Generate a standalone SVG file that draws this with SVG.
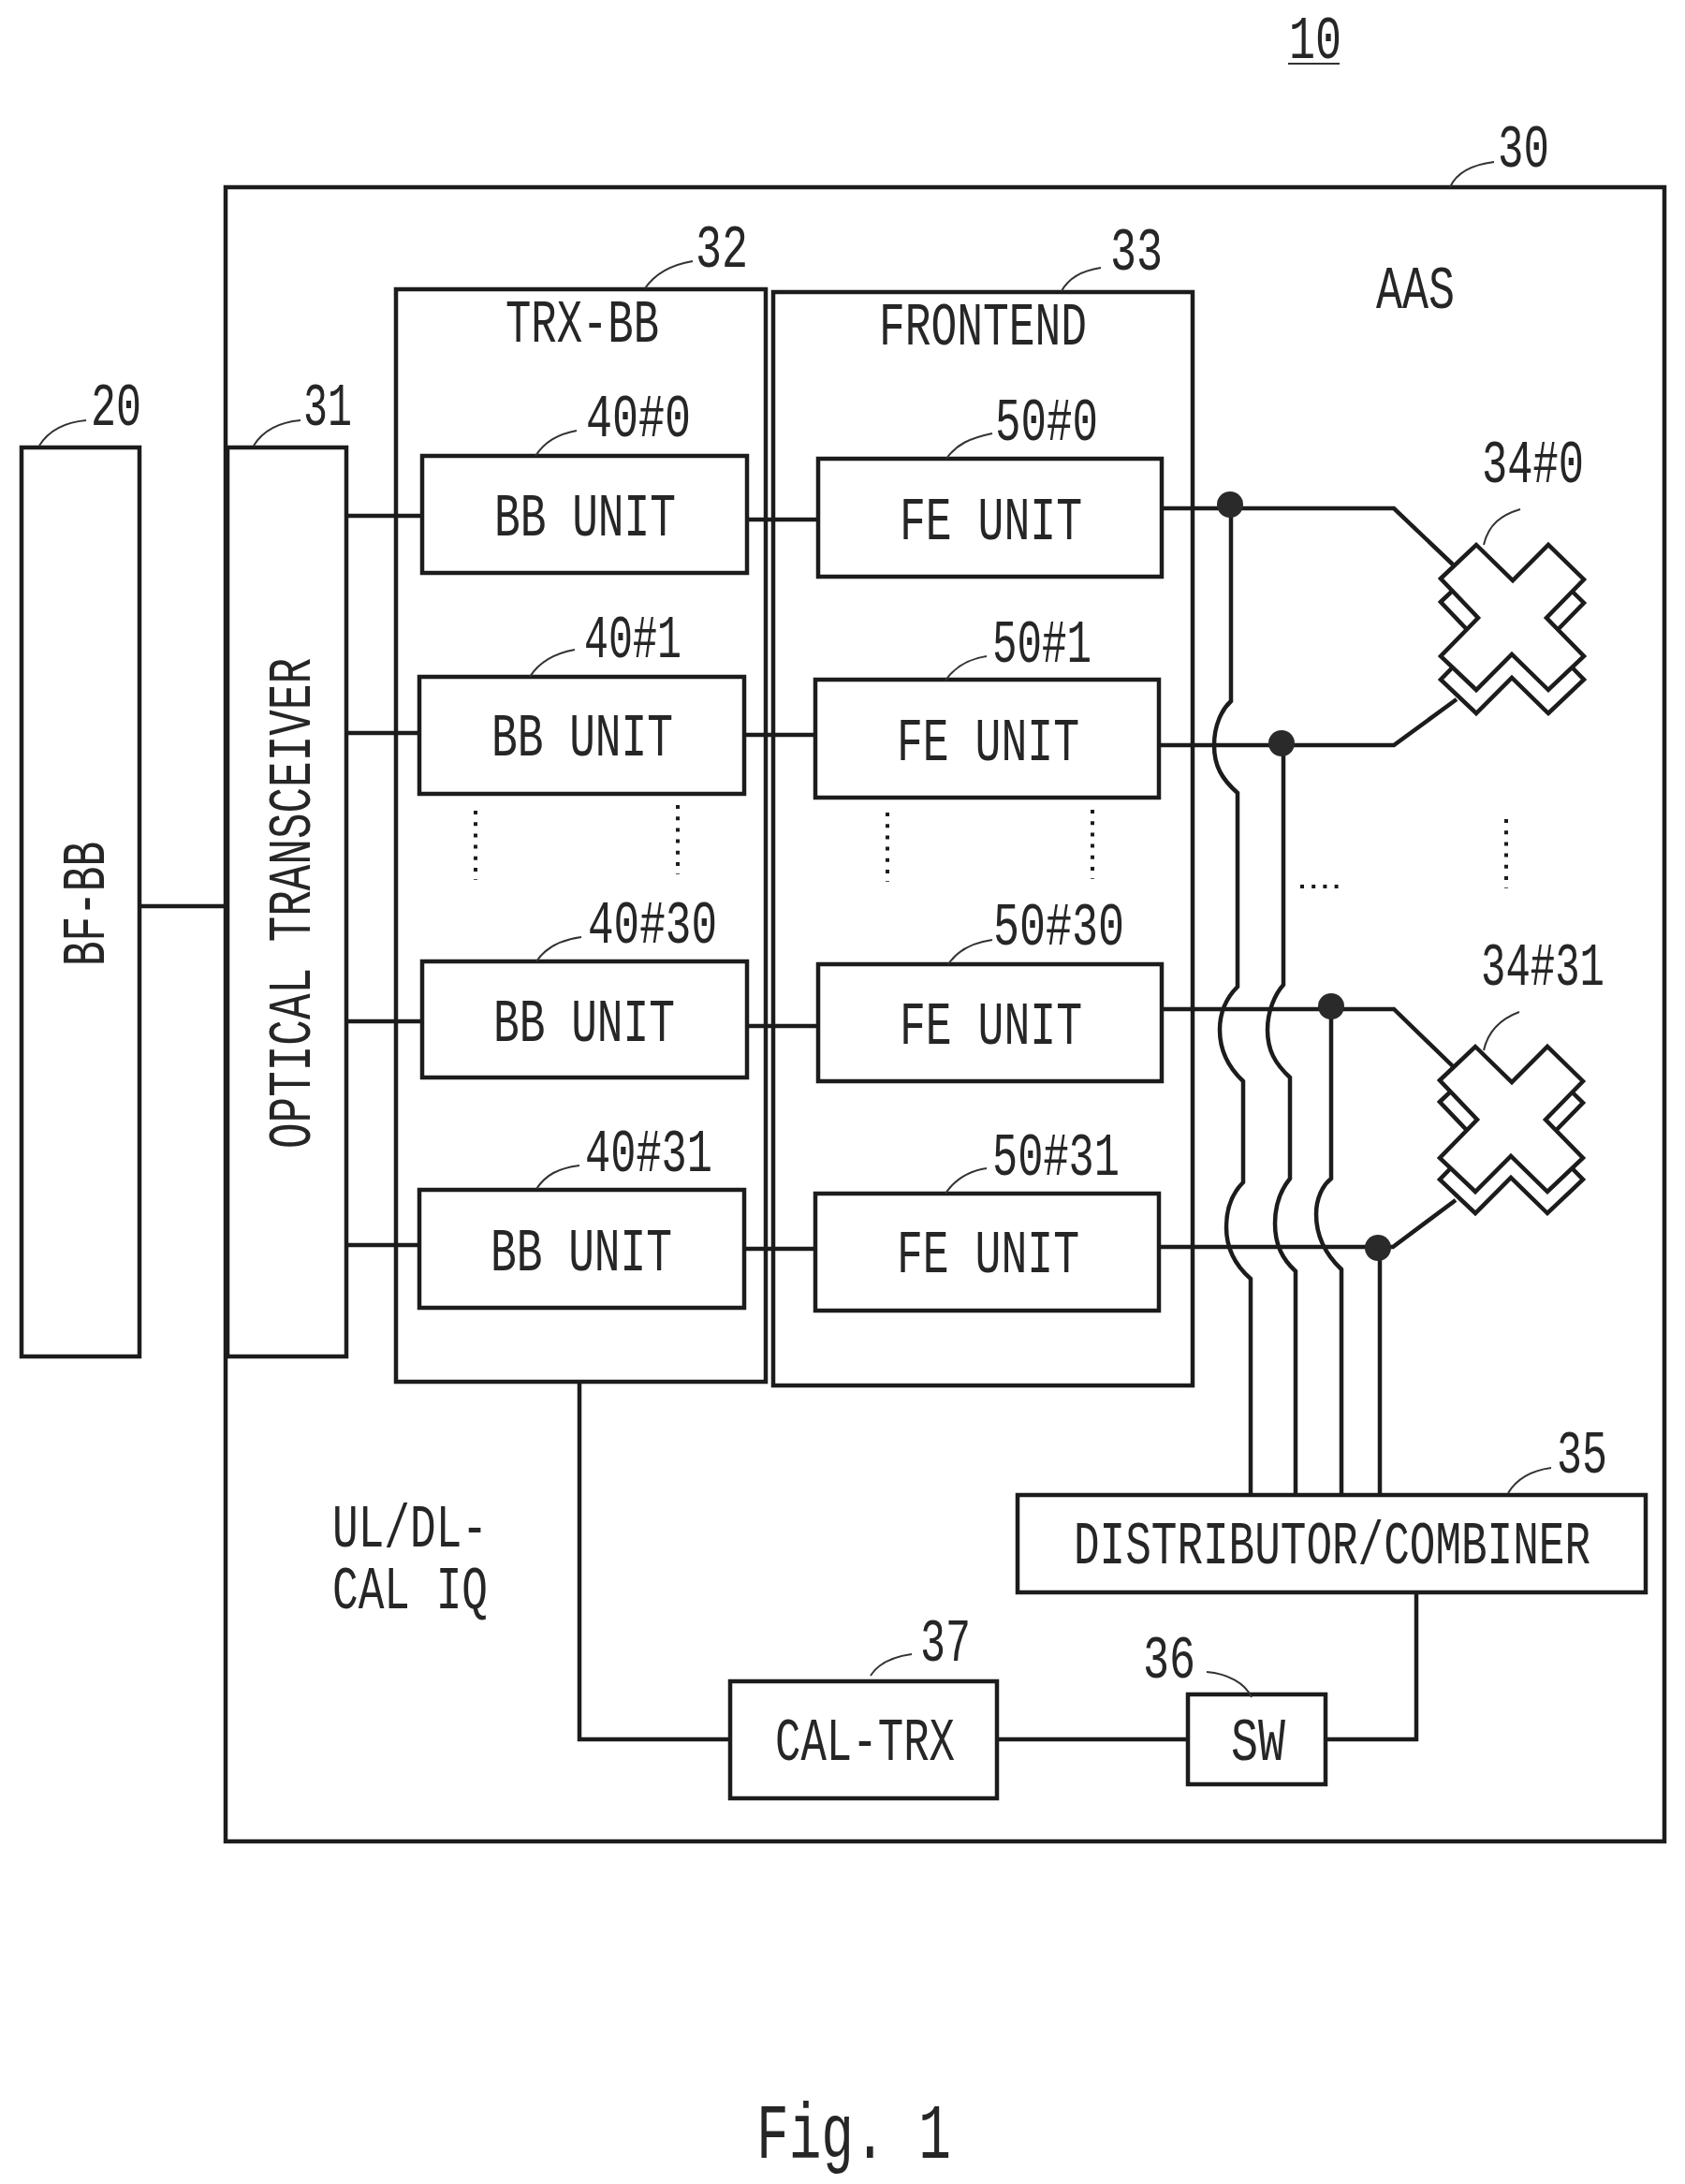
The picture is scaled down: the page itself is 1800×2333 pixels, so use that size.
<svg xmlns="http://www.w3.org/2000/svg" width="1800" height="2333" viewBox="0 0 1800 2333">
<style>
.b{fill:none;stroke:#1c1c1c;stroke-width:4.5}
.c{fill:none;stroke:#1c1c1c;stroke-width:4.5}
.l{fill:none;stroke:#333;stroke-width:2}
.a{fill:#fff;stroke:#1c1c1c;stroke-width:4.5;stroke-linejoin:miter}
.d{fill:none;stroke:#1c1c1c;stroke-width:4;stroke-dasharray:4 8.2}
.j{fill:#2a2a2a}
text{font-family:"Liberation Mono","DejaVu Sans Mono",monospace;font-size:64px;fill:#262626}
.f{font-size:83px}
</style>
<defs>
<polygon id="cross" points="0,36 38,0 77,38 115,0 153,37 113,78 153,119 115,155 76,117 38,155 0,119 40,78"/>
</defs>
<rect width="1800" height="2333" fill="#fff"/>
<g id="fig-ref"><text x="1377" y="62" textLength="56" lengthAdjust="spacingAndGlyphs">10</text><line class="l" x1="1376" y1="68" x2="1431" y2="68"/></g>
<g id="node-30"><rect class="b" x="241" y="200" width="1537" height="1767"/><text x="1600" y="178" textLength="55" lengthAdjust="spacingAndGlyphs">30</text><text x="1470" y="329" textLength="84" lengthAdjust="spacingAndGlyphs">AAS</text></g>
<g id="node-20"><rect class="b" x="23" y="478" width="126" height="971"/><text x="97" y="454" textLength="54" lengthAdjust="spacingAndGlyphs">20</text><text transform="translate(111 1032) rotate(-90)" textLength="133" lengthAdjust="spacingAndGlyphs">BF-BB</text></g>
<g id="node-31"><rect class="b" x="243" y="478" width="127" height="971"/><text x="324" y="454" textLength="52" lengthAdjust="spacingAndGlyphs">31</text><text transform="translate(331 1227) rotate(-90)" textLength="524" lengthAdjust="spacingAndGlyphs">OPTICAL TRANSCEIVER</text></g>
<g id="node-32"><rect class="b" x="423" y="309" width="395" height="1167"/><text x="540" y="365" textLength="164" lengthAdjust="spacingAndGlyphs">TRX-BB</text><text x="743" y="285" textLength="56" lengthAdjust="spacingAndGlyphs">32</text></g>
<g id="node-33"><rect class="b" x="826" y="312" width="448" height="1168"/><text x="939" y="368" textLength="222" lengthAdjust="spacingAndGlyphs">FRONTEND</text><text x="1186" y="288" textLength="56" lengthAdjust="spacingAndGlyphs">33</text></g>
<g id="node-40-0"><rect class="b" x="451" y="487" width="347" height="125"/><text x="528" y="572" textLength="194" lengthAdjust="spacingAndGlyphs">BB UNIT</text><text x="626" y="466" textLength="112" lengthAdjust="spacingAndGlyphs">40#0</text></g>
<g id="node-40-1"><rect class="b" x="448" y="723" width="347" height="125"/><text x="525" y="807" textLength="194" lengthAdjust="spacingAndGlyphs">BB UNIT</text><text x="624" y="702" textLength="104" lengthAdjust="spacingAndGlyphs">40#1</text></g>
<g id="node-40-30"><rect class="b" x="451" y="1027" width="347" height="124"/><text x="527" y="1112" textLength="194" lengthAdjust="spacingAndGlyphs">BB UNIT</text><text x="628" y="1007" textLength="138" lengthAdjust="spacingAndGlyphs">40#30</text></g>
<g id="node-40-31"><rect class="b" x="448" y="1271" width="347" height="126"/><text x="524" y="1357" textLength="194" lengthAdjust="spacingAndGlyphs">BB UNIT</text><text x="625" y="1251" textLength="136" lengthAdjust="spacingAndGlyphs">40#31</text></g>
<g id="node-50-0"><rect class="b" x="874" y="490" width="367" height="126"/><text x="961" y="576" textLength="195" lengthAdjust="spacingAndGlyphs">FE UNIT</text><text x="1063" y="470" textLength="110" lengthAdjust="spacingAndGlyphs">50#0</text></g>
<g id="node-50-1"><rect class="b" x="871" y="726" width="367" height="126"/><text x="958" y="812" textLength="195" lengthAdjust="spacingAndGlyphs">FE UNIT</text><text x="1060" y="707" textLength="106" lengthAdjust="spacingAndGlyphs">50#1</text></g>
<g id="node-50-30"><rect class="b" x="874" y="1030" width="367" height="125"/><text x="961" y="1115" textLength="195" lengthAdjust="spacingAndGlyphs">FE UNIT</text><text x="1061" y="1009" textLength="140" lengthAdjust="spacingAndGlyphs">50#30</text></g>
<g id="node-50-31"><rect class="b" x="871" y="1275" width="367" height="125"/><text x="958" y="1359" textLength="195" lengthAdjust="spacingAndGlyphs">FE UNIT</text><text x="1060" y="1255" textLength="136" lengthAdjust="spacingAndGlyphs">50#31</text></g>
<g id="node-34-0"><use href="#cross" class="a" transform="translate(1539 607)"/><use href="#cross" class="a" transform="translate(1539 582)"/><text x="1583" y="515" textLength="109" lengthAdjust="spacingAndGlyphs">34#0</text></g>
<g id="node-34-31"><use href="#cross" class="a" transform="translate(1538 1141)"/><use href="#cross" class="a" transform="translate(1538 1118)"/><text x="1582" y="1052" textLength="132" lengthAdjust="spacingAndGlyphs">34#31</text></g>
<g id="node-35"><rect class="b" x="1087" y="1597" width="671" height="104"/><text x="1147" y="1670" textLength="552" lengthAdjust="spacingAndGlyphs">DISTRIBUTOR/COMBINER</text><text x="1663" y="1573" textLength="54" lengthAdjust="spacingAndGlyphs">35</text></g>
<g id="node-36"><rect class="b" x="1269" y="1810" width="147" height="96"/><text x="1315" y="1880" textLength="58" lengthAdjust="spacingAndGlyphs">SW</text><text x="1221" y="1792" textLength="56" lengthAdjust="spacingAndGlyphs">36</text></g>
<g id="node-37"><rect class="b" x="780" y="1796" width="285" height="125"/><text x="828" y="1880" textLength="192" lengthAdjust="spacingAndGlyphs">CAL-TRX</text><text x="983" y="1774" textLength="54" lengthAdjust="spacingAndGlyphs">37</text></g>
<g id="labels"><text x="355" y="1652" textLength="166" lengthAdjust="spacingAndGlyphs">UL/DL-</text><text x="355" y="1718" textLength="166" lengthAdjust="spacingAndGlyphs">CAL IQ</text><text class="f" x="808" y="2305" textLength="208" lengthAdjust="spacingAndGlyphs">Fig. 1</text></g>
<g id="connectors">
<path class="c" d="M149 968H243M370 551H451M370 783H448M370 1091H451M370 1330H448"/>
<path class="c" d="M798 555H874M795 785H871M798 1096H874M795 1334H871"/>
<path class="c" d="M1241 543H1489L1552 603M1238 796H1489L1556 747M1241 1078H1489L1552 1139M1238 1332H1488L1555 1282"/>
<path class="c" d="M1315 539V749C1305 758 1297 775 1297 796C1297 818 1305 832 1322 847V1054C1312 1064 1303 1080 1303 1100C1303 1122 1312 1140 1328 1155V1263C1317 1274 1310 1290 1310 1311C1310 1335 1320 1352 1336 1366V1597"/>
<path class="c" d="M1371 794V1052C1362 1062 1354 1080 1354 1100C1354 1122 1362 1136 1378 1151V1259C1369 1270 1362 1286 1362 1307C1362 1330 1370 1345 1384 1358V1597"/>
<path class="c" d="M1422 1075V1259C1413 1266 1406 1280 1406 1297C1406 1322 1416 1340 1433 1356V1597"/>
<path class="c" d="M1474 1333V1597"/>
<path class="c" d="M619 1476V1858H780M1065 1858H1269M1416 1858H1513V1701"/>
<circle class="j" cx="1314" cy="539" r="14"/><circle class="j" cx="1369" cy="794" r="14"/><circle class="j" cx="1422" cy="1075" r="14"/><circle class="j" cx="1472" cy="1333" r="14"/>
<path class="d" d="M508 866V940M724 860V934M948 868V942M1167 865V939M1609 875V949M1389 947H1432"/>
<path class="l" d="M42 476C52 460 70 451 92 449M271 476C281 460 298 451 321 449M689 308C700 292 716 283 740 279M572 487C582 472 595 464 616 460M566 723C576 707 592 698 614 694M573 1027C583 1012 598 1004 621 1001M573 1270C583 1255 596 1248 619 1245M1134 311C1142 296 1156 289 1176 286M1011 490C1021 475 1036 468 1060 463M1010 727C1020 712 1034 704 1054 701M1013 1030C1023 1015 1038 1007 1060 1004M1010 1275C1020 1260 1034 1251 1054 1248M1549 200C1556 184 1572 176 1596 173M1611 1595C1620 1580 1635 1571 1657 1568M930 1790C938 1777 952 1770 974 1767M1337 1813C1330 1798 1312 1788 1289 1786M1585 582C1590 560 1604 550 1624 544M1585 1122C1590 1100 1604 1088 1623 1081"/>
</g>
</svg>
